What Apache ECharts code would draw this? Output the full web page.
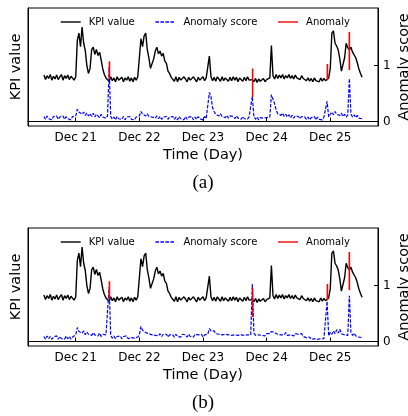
<!DOCTYPE html>
<html>
<head>
<meta charset="utf-8">
<script src="https://cdn.jsdelivr.net/npm/echarts@6/dist/echarts.min.js"></script>
<style>
html,body{margin:0;padding:0;background:#fff;}
#chart{width:408px;height:416px;}
</style>
</head>
<body>
<div id="chart"></div>
<script>
// Sampling of the series: start day (Dec 20.5) and step in days
const t0 = 20.5;
const dt = 0.025;

// KPI value (same KPI in both panels), in plot units
const kpi = [
  0.83,0.75,0.82,0.77,0.84,0.74,0.81,0.76,0.83,0.75,0.80,0.84,0.74,0.82,0.77,0.83,0.75,0.81,0.78,0.74,
  0.80,1.45,1.58,1.34,1.69,1.40,1.27,1.00,0.86,0.95,1.28,1.33,1.20,1.29,1.18,1.24,1.10,0.94,0.84,0.78,
  0.79,0.72,0.80,0.73,0.78,0.71,0.80,0.74,0.72,0.79,0.71,0.78,0.74,0.80,0.72,0.78,0.71,0.79,0.74,0.80,
  0.80,1.48,1.34,1.53,1.58,1.28,1.14,0.95,0.93,1.12,1.26,1.33,1.21,1.26,1.17,1.22,1.08,1.04,0.90,0.86,0.79,
  0.78,0.72,0.80,0.71,0.79,0.74,0.72,0.80,0.76,0.71,0.79,0.74,0.72,0.80,0.77,0.71,0.79,0.74,0.71,0.80,0.73,0.78,0.75,
  1.17,
  0.80,0.73,0.79,0.72,0.80,0.77,0.72,0.80,0.73,0.78,0.80,0.72,0.79,0.73,0.80,0.74,0.79,0.71,0.78,0.80,0.72,0.79,0.73,0.80,0.74,0.77,
  0.75,
  0.71,0.77,0.70,0.76,0.72,0.69,0.77,0.71,0.75,0.72,0.78,
  1.36,
  0.82,0.76,0.84,0.77,0.83,0.78,0.84,0.76,0.82,0.78,0.84,0.77,0.82,0.76,0.83,0.78,0.81,0.75,0.82,0.77,0.80,
  0.73,0.78,0.72,0.77,0.71,0.78,0.73,0.76,0.71,0.78,0.72,0.77,0.73,
  0.74,
  0.78,
  0.95,1.58,1.62,1.40,1.35,1.28,1.12,0.90,0.88,1.14,1.40,1.32,1.28,1.33,1.24,1.27,1.14,1.05,0.94,0.86,0.79
];

// Anomaly score, panel (a)
const scoreA = [
  0.09,0.04,0.10,0.05,0.08,0.03,0.09,0.06,0.10,0.04,0.08,0.05,0.10,0.04,0.09,0.05,0.08,0.03,0.09,0.06,
  0.10,0.22,0.17,0.19,0.13,0.17,0.11,0.15,0.10,0.14,0.09,0.15,0.08,0.13,0.10,0.07,0.13,0.08,0.11,0.06,
  0.10,0.98,0.09,0.04,0.08,0.03,0.09,0.05,0.08,0.04,0.09,0.03,0.08,0.05,0.09,0.04,0.07,0.03,0.08,0.05,
  0.10,0.18,0.13,0.15,0.10,0.14,0.09,0.12,0.08,0.11,0.06,0.10,0.05,0.09,0.04,0.08,0.05,0.09,0.04,0.08,0.05,
  0.09,0.04,0.08,0.03,0.09,0.05,0.08,0.03,0.09,0.04,0.08,0.05,0.09,0.03,0.08,0.04,0.09,0.05,0.08,0.03,0.09,0.05,0.08,
  0.52,
  0.45,0.25,0.18,0.13,0.16,0.10,0.14,0.09,0.12,0.07,0.11,0.06,0.10,0.07,0.09,0.05,0.10,0.06,0.09,0.04,0.09,0.05,0.08,0.04,0.09,0.06,
  0.45,
  0.09,0.04,0.08,0.03,0.07,0.04,0.06,0.03,0.07,0.04,0.08,
  0.48,
  0.50,0.32,0.20,0.14,0.17,0.11,0.15,0.09,0.13,0.08,0.12,0.07,0.11,0.06,0.10,0.07,0.09,0.05,0.09,0.06,0.08,
  0.04,0.08,0.03,0.07,0.05,0.09,0.03,0.08,0.04,0.07,0.03,0.08,0.05,
  0.36,
  0.08,
  0.13,0.17,0.12,0.18,0.13,0.16,0.11,0.15,0.09,0.13,0.08,0.12,0.77,0.13,0.08,0.12,0.07,0.11,0.06,0.09,0.05
];

// Anomaly score, panel (b)
const scoreB = [
  0.09,0.04,0.10,0.05,0.09,0.04,0.08,0.06,0.10,0.04,0.09,0.05,0.08,0.04,0.10,0.05,0.09,0.04,0.08,0.06,
  0.12,0.25,0.18,0.20,0.15,0.19,0.12,0.17,0.13,0.16,0.11,0.16,0.12,0.14,0.10,0.15,0.09,0.13,0.10,0.12,
  0.09,0.97,0.11,0.06,0.10,0.05,0.09,0.06,0.10,0.05,0.09,0.06,0.10,0.05,0.08,0.07,0.10,0.06,0.09,0.08,
  0.12,0.27,0.20,0.22,0.16,0.19,0.14,0.17,0.12,0.15,0.11,0.14,0.10,0.14,0.09,0.13,0.10,0.13,0.08,0.12,0.09,
  0.12,0.08,0.13,0.09,0.12,0.08,0.13,0.10,0.12,0.08,0.13,0.09,0.12,0.08,0.13,0.10,0.12,0.09,0.13,0.08,0.12,0.10,0.13,
  0.23,
  0.19,0.17,0.19,0.14,0.17,0.13,0.16,0.12,0.15,0.13,0.16,0.12,0.15,0.11,0.14,0.12,0.15,0.11,0.14,0.12,0.15,0.11,0.14,0.12,0.15,0.12,
  1.03,
  0.15,0.11,0.14,0.12,0.15,0.11,0.14,0.10,0.14,0.12,0.14,
  0.18,
  0.21,0.16,0.17,0.13,0.16,0.12,0.15,0.12,0.16,0.11,0.14,0.12,0.15,0.10,0.14,0.11,0.13,0.10,0.14,0.09,0.12,
  0.07,0.05,0.08,0.04,0.07,0.05,0.08,0.04,0.07,0.05,0.08,0.05,0.07,
  0.72,
  0.10,
  0.17,0.13,0.19,0.14,0.21,0.15,0.22,0.14,0.17,0.12,0.15,0.11,0.82,0.16,0.11,0.15,0.10,0.12,0.08,0.10,0.07
];

// Labelled anomalies (red segments on the KPI)
const anomalyDays = [21.53, 23.78, 24.955, 25.30];
const anomalyLow  = [0.76, 0.44, 0.74, 0.92];
const anomalyHigh = [1.08, 0.95, 1.03, 1.60];

// Axis ticks
const dayTicks = [21, 22, 23, 24, 25];
const tickLabels = ['Dec 21', 'Dec 22', 'Dec 23', 'Dec 24', 'Dec 25'];
const scoreTicks = [0, 1];

const days = kpi.map((_, i) => +(t0 + i * dt).toFixed(4));
const pairs = arr => arr.map((v, i) => [days[i], v]);
const anomalyData = [];
anomalyDays.forEach((d, k) => {
  anomalyData.push([d, anomalyLow[k]], [d, anomalyHigh[k]], [d, '-']);
});

const FONT = 'DejaVu Sans';
const panelTops = [8, 228];
const plotH = 118;

const grids = panelTops.map(t => ({
  left: 28, right: 30, top: t, height: plotH,
  show: true, borderColor: '#000', borderWidth: 1, backgroundColor: 'transparent'
}));

const xAxes = panelTops.map((t, g) => ({
  gridIndex: g, type: 'value', min: 20.25, max: 25.75,
  axisLine: { show: true, lineStyle: { color: '#000', width: 1 } },
  axisTick: { show: true, inside: true, length: 4, customValues: dayTicks, lineStyle: { color: '#000' } },
  axisLabel: {
    customValues: dayTicks, margin: 6, fontSize: 12, color: '#000', fontFamily: FONT,
    formatter: v => tickLabels[dayTicks.indexOf(Math.round(v))]
  },
  splitLine: { show: false }
}));

const yAxes = [];
panelTops.forEach((t, g) => {
  yAxes.push({
    gridIndex: g, type: 'value', min: -0.08, max: 2.03, position: 'left',
    axisLine: { show: true, lineStyle: { color: '#000' } },
    axisTick: { show: false }, axisLabel: { show: false }, splitLine: { show: false }
  });
  yAxes.push({
    gridIndex: g, type: 'value', min: -0.08, max: 2.03, position: 'right',
    axisLine: { show: true, lineStyle: { color: '#000' } },
    axisTick: { show: true, inside: true, length: 4, customValues: scoreTicks, lineStyle: { color: '#000' } },
    axisLabel: { customValues: scoreTicks, margin: 5, fontSize: 12, color: '#000', fontFamily: FONT },
    splitLine: { show: false }
  });
});

const series = [];
[scoreA, scoreB].forEach((score, g) => {
  series.push({
    name: 'KPI value', type: 'line', xAxisIndex: g, yAxisIndex: 2 * g,
    data: pairs(kpi), symbol: 'none', showSymbol: false, lineStyle: { color: '#000', width: 1.4 },
    itemStyle: { color: '#000' }, z: 2
  });
  series.push({
    name: 'Anomaly score', type: 'line', xAxisIndex: g, yAxisIndex: 2 * g + 1,
    data: pairs(score), symbol: 'none', showSymbol: false, lineStyle: { color: '#0000ff', width: 1.2, type: [3.5, 1.5] },
    itemStyle: { color: '#0000ff' }, z: 3
  });
  series.push({
    name: 'Anomaly', type: 'line', xAxisIndex: g, yAxisIndex: 2 * g,
    data: anomalyData, symbol: 'none', showSymbol: false, connectNulls: false,
    lineStyle: { color: '#ff0000', width: 1.6 }, itemStyle: { color: '#ff0000' }, z: 4
  });
});

const legends = panelTops.map(t => ({
  top: t + 9, left: 60, padding: 0, orient: 'horizontal', itemWidth: 20, itemHeight: 8, itemGap: 20,
  selectedMode: false,
  itemStyle: { opacity: 0 },
  lineStyle: { width: 1.4 },
  textStyle: { fontSize: 10, fontFamily: FONT, color: '#000', padding: [0, 0, 0, 3] },
  data: ['KPI value', 'Anomaly score', 'Anomaly']
}));

const graphics = [];
const panelLetters = ['(a)', '(b)'];
panelTops.forEach((t, g) => {
  const mid = t + plotH / 2;
  graphics.push({ type: 'text', x: 16, y: mid, rotation: Math.PI / 2,
    style: { text: 'KPI value', fontSize: 14.5, fontFamily: FONT, fill: '#000', textAlign: 'center', textVerticalAlign: 'middle' } });
  graphics.push({ type: 'text', x: 404, y: mid, rotation: Math.PI / 2,
    style: { text: 'Anomaly score', fontSize: 14.5, fontFamily: FONT, fill: '#000', textAlign: 'center', textVerticalAlign: 'middle' } });
  graphics.push({ type: 'text', x: 203, y: t + plotH + 29.5,
    style: { text: 'Time (Day)', fontSize: 14.5, fontFamily: FONT, fill: '#000', textAlign: 'center', textVerticalAlign: 'middle' } });
  graphics.push({ type: 'text', x: 203, y: t + plotH + 57,
    style: { text: panelLetters[g], fontSize: 19, fontFamily: 'Liberation Serif', fill: '#000', textAlign: 'center', textVerticalAlign: 'middle' } });
});

const chart = echarts.init(document.getElementById('chart'), null, { renderer: 'canvas' });
chart.setOption({
  animation: false,
  backgroundColor: '#fff',
  grid: grids,
  xAxis: xAxes,
  yAxis: yAxes,
  legend: legends,
  series: series,
  graphic: graphics
});
</script>
</body>
</html>
